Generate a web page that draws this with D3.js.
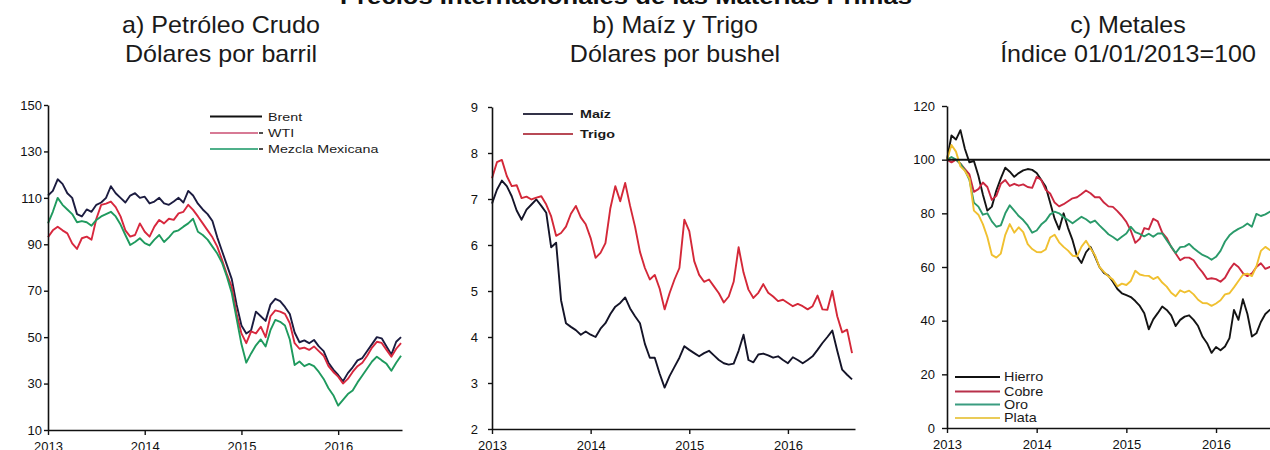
<!DOCTYPE html>
<html><head><meta charset="utf-8">
<script src="https://cdn.jsdelivr.net/npm/d3@7"></script>
<style>
body{margin:0;background:#fff;}
svg{display:block;font-family:"Liberation Sans",Arial,Helvetica,sans-serif;}
</style></head><body>
<svg id="c" width="1270" height="450"></svg>
<script>
// ---- data (decimal years) ----
const dates = [
2013.00,2013.05,2013.10,2013.15,2013.20,2013.25,2013.30,2013.35,2013.40,2013.45,2013.50,2013.55,2013.60,2013.65,2013.70,2013.75,2013.80,2013.85,2013.90,2013.95,
2014.00,2014.05,2014.10,2014.15,2014.20,2014.25,2014.30,2014.35,2014.40,2014.45,2014.50,2014.55,2014.60,2014.65,2014.70,2014.75,2014.80,2014.85,2014.90,2014.95,
2015.00,2015.05,2015.10,2015.15,2015.20,2015.25,2015.30,2015.35,2015.40,2015.45,2015.50,2015.55,2015.60,2015.65,2015.70,2015.75,2015.80,2015.85,2015.90,2015.95,
2016.00,2016.05,2016.10,2016.15,2016.20,2016.25,2016.30,2016.35,2016.40,2016.45,2016.50,2016.55,2016.60,2016.65];
const yearTicks = [2013, 2014, 2015, 2016];

// a) Petróleo crudo, dólares por barril
const brent = [
111,113,118,116,112,110,103,102,105,104,107,108,110,115,112,110,108,111,112,110,
110.5,107.6,108.4,110,107.6,107,108.4,110,108,113,111,107.5,105,103,100,93,87,81,75,64,
55,51.6,53,61,59,57,64,66.5,65.5,63,60,52,47.8,48.6,47.4,48.8,46,44,39,36,
33.7,31,34.5,37,40,41,44,47,50,49.5,46,42.5,48,50];
const wti = [
93,96,97.6,96,94.7,90.4,88,92.6,93.3,92,101,107,107.5,108.4,106,102,96,93.3,94,99,
95.4,93.3,97.6,100.5,99,101,100.5,103.3,104,107,104.8,102,99,96,93,89,83.2,77,71.7,60,
51.6,47.4,52.5,51.6,54.5,50,59,61.5,61,60,56,47.4,45,45.5,44.5,46,44,42,37.5,35,
33,30,32,35,37.5,39,42,45.5,48,47.5,44.5,41.6,45,47.4];
const mezcla = [
99,104,110,107,105,103,99.5,100,99.5,98,100.5,102,103,104,102,98.5,94,89.7,91,92.6,
90.5,89.5,92,94,91,93,95.4,96,97.6,99,101,95.4,94,92,89,86,82,76,69,58,
47,39,43,46.5,49,46,53,57.4,56.6,55,49,38,39.5,37.5,38.5,37.5,35,32,28,25,
20.5,23,25.5,27,30.5,33.5,36.5,39.5,41.6,40,38.5,35.5,39,42];
const oilTicks = [10, 30, 50, 70, 90, 110, 130, 150];

// b) Maíz y trigo, dólares por bushel
const maiz = [
6.9,7.2,7.4,7.28,7.06,6.75,6.55,6.77,6.88,6.99,6.85,6.7,5.95,6.05,4.8,4.3,4.22,4.15,4.05,4.12,
4.05,4.0,4.18,4.3,4.5,4.66,4.74,4.86,4.62,4.45,4.3,3.85,3.55,3.55,3.2,2.9,3.15,3.35,3.55,3.8,
3.72,3.65,3.58,3.65,3.7,3.6,3.5,3.43,3.4,3.42,3.7,4.05,3.5,3.45,3.62,3.64,3.6,3.55,3.58,3.5,
3.43,3.56,3.5,3.43,3.5,3.58,3.72,3.87,4.0,4.14,3.7,3.29,3.18,3.08];
const trigo = [
7.45,7.8,7.85,7.5,7.28,7.3,7.02,7.05,6.99,7.03,7.06,6.88,6.62,6.2,6.26,6.4,6.68,6.85,6.6,6.45,
6.15,5.72,5.83,6.04,6.8,7.28,6.95,7.35,6.85,6.4,5.85,5.5,5.25,5.35,5.05,4.6,4.95,5.25,5.5,6.55,
6.3,5.65,5.35,5.2,5.25,5.1,4.95,4.75,4.88,5.2,5.95,5.4,5.03,4.85,4.96,5.15,4.96,4.88,4.78,4.81,
4.74,4.67,4.72,4.67,4.6,4.67,4.9,4.6,4.59,5.0,4.45,4.1,4.16,3.65];
const grainTicks = [2, 3, 4, 5, 6, 7, 8, 9];

// c) Metales, índice 01/01/2013 = 100
const hierro = [
100,109,107.5,111,104,99,99.5,94,87,81,82.5,88.5,93,97,95.5,93.6,95,96,96.5,96.2,
95,92.5,90,84,78,74,80,74.5,70,64,61.5,65.5,67.5,64,60,57.8,56.8,54.5,51.8,50.2,
49.5,48.8,47.3,45.5,42.8,36.8,40.5,42.8,45.3,44,42,38,40.3,41.5,42,40.3,38,34,31.6,28,
30.2,29,30.4,33.5,44,40.3,48,42.5,34.1,35.3,39.5,42.5,44,44.5];
const cobre = [
100,99,100,98.5,96.5,94.5,88,89,91.5,89.8,85,86.5,91,92.4,90.2,91,90.3,90.8,89.8,89.5,
93.6,92.5,88.8,87.4,84,82.6,83.4,84.5,85.6,86,87.2,88.5,87.5,86,86,84,82.6,82.4,80.8,79,
76.8,73.5,69,70.5,74.5,74,78,77,72.8,70.8,67.5,65,62.5,63.5,63.5,62.5,60,58,55.5,55.8,
55.5,54.5,56,59,61.3,60,57.7,56.6,57.6,60,61.4,59.3,60,60];
const oro = [
100,101,100,98.5,96,92.5,84,82.5,79.5,80,77,75,75.5,80,83,81,79,77.5,75.5,72.8,
73.6,75.8,77.2,79.6,80.6,80,78.6,77.5,76.3,77.5,78.7,77.8,76.5,77.3,75.5,73.9,72.2,71.2,70,71.3,
72.5,75,73,72.3,71.4,72.4,71.3,72.5,72.5,70,67.6,65.2,67.4,67.6,68.6,67,65.7,64.5,63.8,62.7,
63.8,66,69.5,71.8,73.2,74.2,75,76.2,75,79.8,79,79.6,80.6,81];
const plata = [
100,105.5,103,97.5,95.8,93,81,79.5,76,71.2,64.5,63.5,65,72,76,72.8,74.8,73,68.5,66.7,
65.6,65.5,66.5,71,72,69.2,67.5,66.1,64.2,64,67.6,69.8,67,64.4,60,58.2,56.5,55.3,52.8,53.8,
53.3,54.8,58.6,57.2,56.8,56.7,55.5,56.3,54.2,52.7,50.4,49.1,51.3,50.5,51.2,49.8,47.8,46.6,46.5,45.5,
46.4,47.6,49.8,50.2,52.4,54.8,57.1,57.5,56.6,60.2,66,67.5,66.3,67];
const metalTicks = [0, 20, 40, 60, 80, 100, 120];
const baseIndex = 100;

// ---- drawing ----
const svg = d3.select("#c");
const FONT = '"Liberation Sans",Arial,Helvetica,sans-serif';

// top (cut) title
svg.append("text").attr("x", 626).attr("y", 4).attr("text-anchor", "middle")
  .attr("font-size", 22).attr("font-weight", "bold").attr("fill", "#111")
  .attr("textLength", 572).attr("lengthAdjust", "spacingAndGlyphs")
  .text("Precios Internacionales de las Materias Primas");

function titles(cx, l1, l2) {
  [[l1, 32.5], [l2, 61.5]].forEach(([t, y]) => {
    svg.append("text").attr("transform", `translate(${cx},${y}) scale(1.09,1)`)
      .attr("text-anchor", "middle").attr("font-size", 23).attr("fill", "#1a1a1a").text(t);
  });
}
titles(221, "a) Petróleo Crudo", "Dólares por barril");
titles(675, "b) Maíz y Trigo", "Dólares por bushel");
titles(1128, "c) Metales", "Índice 01/01/2013=100");

function panel(o) {
  const x = d3.scaleLinear().domain(o.xd).range(o.xr);
  const y = d3.scaleLinear().domain(o.yd).range(o.yr);
  const g = svg.append("g");
  const line = d3.line().x((d, i) => x(dates[i])).y(d => y(d));
  o.series.forEach(s => {
    g.append("path").datum(s.v).attr("fill", "none").attr("stroke", s.c)
      .attr("stroke-width", s.w || 1.9).attr("stroke-linejoin", "round").attr("d", line);
  });
  const ya = g.append("g").attr("transform", `translate(${o.xr[0]},0)`)
    .call(d3.axisLeft(y).tickValues(o.yt).tickSize(o.ts).tickSizeOuter(0).tickPadding(o.tp).tickFormat(d3.format("d")));
  const xa = g.append("g").attr("transform", `translate(0,${o.yr[0]})`)
    .call(d3.axisBottom(x).tickValues(yearTicks).tickSize(5).tickSizeOuter(0).tickPadding(7).tickFormat(d3.format("d")));
  [ya, xa].forEach(a => {
    a.select(".domain").attr("stroke", "#111").attr("stroke-width", 1.6);
    a.selectAll(".tick line").attr("stroke", "#111").attr("stroke-width", 1.4);
    a.selectAll("text").attr("font-family", FONT).attr("font-size", 13).attr("fill", "#111");
  });
  return {x, y, g};
}

function legendItem(x1, x2, y, color, label, opts = {}) {
  svg.append("line").attr("x1", x1).attr("x2", x2).attr("y1", y).attr("y2", y)
    .attr("stroke", color).attr("stroke-width", opts.w || 2.2);
  if (opts.dash) svg.append("line").attr("x1", x2 + 1).attr("x2", x2 + 5).attr("y1", y).attr("y2", y)
    .attr("stroke", "#222").attr("stroke-width", 1.6);
  svg.append("text").attr("transform", `translate(${opts.tx},${y + (opts.dy || 4)}) scale(${opts.sx || 1.3},1)`)
    .attr("font-size", opts.fs || 11).attr("font-weight", opts.bold ? "bold" : "normal")
    .attr("fill", "#1a1a1a").text(label);
}

// a)
panel({xd: [2013, 2016.66], xr: [48, 402], yd: [10, 150], yr: [430, 105], yt: oilTicks, ts: 4, tp: 2,
  series: [{v: brent, c: "#1c1c40"}, {v: wti, c: "#d8283e"}, {v: mezcla, c: "#1f9a5e"}]});
legendItem(210, 262, 116.5, "#111", "Brent", {tx: 268});
legendItem(210, 258, 133, "#d77a95", "WTI", {tx: 268, dash: true});
legendItem(210, 258, 149, "#4fb08a", "Mezcla Mexicana", {tx: 268, dash: true});

// b)
panel({xd: [2013, 2016.68], xr: [492, 855], yd: [2, 9], yr: [429, 107], yt: grainTicks, ts: 4, tp: 10,
  series: [{v: maiz, c: "#141428"}, {v: trigo, c: "#d42838"}]});
legendItem(523, 573, 114, "#333348", "Maíz", {tx: 580, bold: true});
legendItem(523, 573, 134, "#b84a56", "Trigo", {tx: 580, bold: true});

// c)
const pc = panel({xd: [2013, 2016.7], xr: [947, 1278.8], yd: [0, 120], yr: [428, 106], yt: metalTicks, ts: 5, tp: 7,
  series: [{v: hierro, c: "#141414"}, {v: cobre, c: "#cc2840"}, {v: oro, c: "#2a9a6a"}, {v: plata, c: "#f0c030"}]});
svg.append("line").attr("x1", 947).attr("x2", 1270).attr("y1", pc.y(baseIndex)).attr("y2", pc.y(baseIndex))
  .attr("stroke", "#111").attr("stroke-width", 2);
legendItem(955, 1000, 377, "#111", "Hierro", {tx: 1004, sx: 1.15, fs: 12.5});
legendItem(955, 1000, 391.5, "#b8304a", "Cobre", {tx: 1004, sx: 1.15, fs: 12.5});
legendItem(955, 1000, 404.5, "#3a9c80", "Oro", {tx: 1004, sx: 1.15, fs: 12.5});
legendItem(955, 1000, 418, "#eacb58", "Plata", {tx: 1004, sx: 1.15, fs: 12.5});
</script>
</body></html>
